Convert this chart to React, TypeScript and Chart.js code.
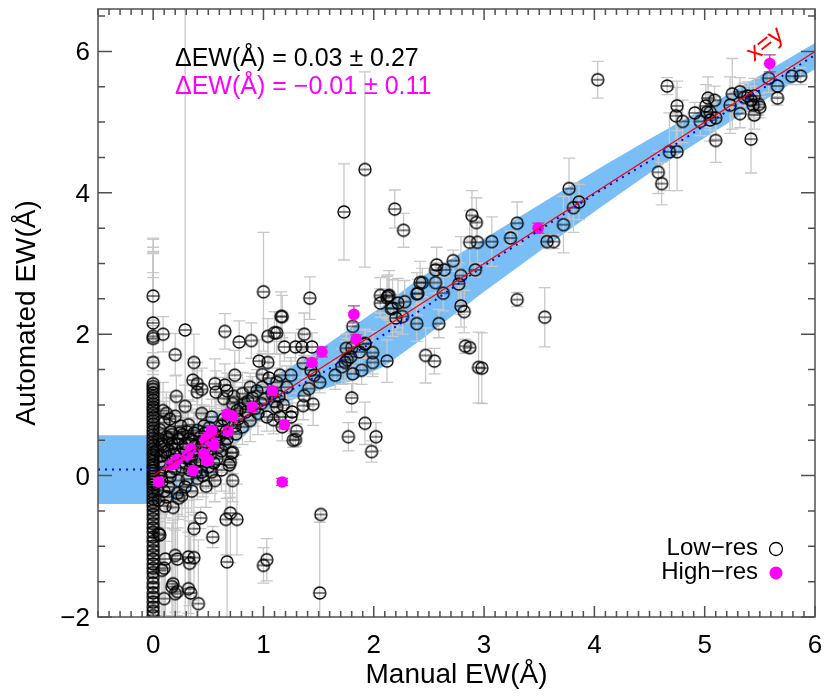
import { useEffect, useRef } from 'react';
import { Chart, registerables } from 'chart.js';

Chart.register(...registerables);

type P = [number, number, number]; // manual EW, automated EW, error

const xTickValues = [0, 1, 2, 3, 4, 5, 6];
const xTickLabels = ['0', '1', '2', '3', '4', '5', '6'];
const yTickValues = [-2, 0, 2, 4, 6];
const yTickLabels = ['−2', '0', '2', '4', '6'];

// running mean band
const bandX = [-0.5, 0, 0.05, 0.3, 0.6, 0.85, 1.06, 1.46, 1.82, 2.1, 2.42, 3.0, 3.5, 4.06, 4.5, 5.0, 5.5, 6.0];
const bandUpper = [0.57, 0.57, 0.55, 0.62, 0.92, 1.18, 1.38, 1.73, 2.12, 2.42, 2.8, 3.35, 3.83, 4.36, 4.76, 5.2, 5.66, 6.12];
const bandLower = [-0.4, -0.4, -0.4, -0.25, 0.2, 0.6, 0.95, 1.19, 1.35, 1.55, 1.91, 2.6, 3.17, 3.8, 4.28, 4.78, 5.27, 5.75];
const meanX = [-0.5, 0, 0.05, 0.3, 0.6, 1.0, 1.5, 2.0, 2.5, 3.0, 3.5, 4.0, 4.5, 5.0, 5.5, 6.0];
const meanY = [0.085, 0.085, 0.08, 0.3, 0.58, 1.0, 1.42, 1.9, 2.42, 2.97, 3.47, 3.98, 4.45, 4.95, 5.45, 5.95];
const identityX = [0, 6];
const identityY = [0, 6];

// manual EW = 0 column (automated EW, error)
const zeroColumn: [number, number][] = [
  [2.54, 0.8], [2.16, 1.0], [1.97, 0.9], [1.94, 1.2], [1.6, 0.6],
  [1.3, 2.06], [1.26, 1.97], [1.22, 1.95], [1.17, 1.63], [1.12, 1.0], [1.07, 0.8], [1.02, 0.9],
  [0.97, 0.7], [0.93, 1.0], [0.88, 0.8], [0.83, 0.6], [0.78, 0.7], [0.73, 0.9], [0.68, 0.5],
  [0.63, 0.7], [0.58, 0.6], [0.53, 0.5], [0.48, 0.8], [0.43, 0.6], [0.38, 0.5], [0.33, 0.7],
  [0.29, 0.4], [0.24, 0.6], [0.2, 0.5], [0.15, 0.4], [0.11, 0.6], [0.07, 0.5], [0.03, 0.4],
  [-0.01, 0.5], [-0.05, 0.4], [-0.09, 0.6], [-0.13, 0.5], [-0.18, 0.7], [-0.23, 0.5], [-0.28, 0.6],
  [-0.33, 0.8], [-0.38, 0.6], [-0.43, 0.7], [-0.49, 0.9], [-0.55, 0.7], [-0.61, 0.8], [-0.68, 1.0],
  [-0.74, 0.8], [-0.8, 0.9], [-0.87, 1.1], [-0.93, 0.9], [-1.0, 1.0], [-1.06, 1.2], [-1.12, 1.0],
  [-1.18, 1.1], [-1.25, 1.3], [-1.31, 1.0], [-1.37, 1.2], [-1.44, 1.1], [-1.52, 1.3], [-1.58, 1.0],
  [-1.66, 1.2], [-1.72, 1.1], [-1.79, 1.3], [-1.86, 1.2], [-1.92, 1.0], [-1.98, 1.1],
];

const lowResSpread: P[] = [
  [0.09, 2.0, 0.25], [0.29, 2.06, 4.6], [0.65, 2.04, 0.25], [0.78, 1.89, 0.3], [0.89, 1.91, 0.25],
  [1.0, 2.6, 0.84], [1.04, 1.97, 0.25], [1.1, 2.02, 0.3], [1.12, 2.02, 0.3], [1.16, 2.25, 0.35],
  [1.17, 2.25, 0.3], [1.37, 2.0, 0.3], [1.42, 2.51, 0.3], [1.73, 3.73, 0.68], [1.92, 4.33, 1.38],
  [2.19, 3.77, 0.27], [2.27, 3.47, 0.24], [1.19, 1.82, 0.2], [1.29, 1.82, 0.2], [1.35, 1.82, 0.25],
  [1.44, 1.82, 0.2], [0.2, 1.71, 0.3], [0.37, 1.6, 0.4], [0.74, 1.42, 0.35],
];

const lowResMid: P[] = [
  [1.81, 2.11, 0.2], [1.92, 1.87, 0.2], [1.75, 1.8, 0.2], [2.06, 2.55, 0.25], [2.06, 2.44, 0.2],
  [2.13, 2.54, 0.3], [2.17, 2.37, 0.4], [2.22, 2.44, 0.35], [2.28, 2.46, 0.3], [2.2, 2.23, 0.2],
  [2.26, 2.25, 0.25], [2.39, 2.57, 0.3], [2.39, 2.15, 0.25], [2.42, 2.73, 0.3], [2.12, 2.52, 0.3],
  [2.14, 2.55, 0.35], [2.16, 2.36, 0.2], [1.36, 1.59, 0.2], [1.43, 1.49, 0.2], [1.46, 1.42, 0.2],
  [1.51, 1.32, 0.15], [1.25, 1.42, 0.25], [1.15, 1.42, 0.3], [1.12, 1.32, 0.2], [1.65, 1.42, 0.2],
  [1.71, 1.54, 0.25], [1.74, 1.6, 0.3], [1.76, 1.64, 0.3], [1.79, 1.68, 0.2], [1.8, 1.81, 0.2],
  [1.81, 1.44, 0.3], [1.89, 1.49, 0.2], [1.87, 1.75, 0.2], [1.92, 1.86, 0.2], [1.99, 1.74, 0.3],
  [1.99, 1.6, 0.2], [2.12, 1.62, 0.3], [1.37, 1.13, 0.2], [1.41, 1.23, 0.25], [1.45, 1.01, 0.3],
  [1.36, 0.99, 0.2], [1.26, 0.9, 0.2], [1.3, 0.63, 0.1], [1.29, 0.51, 0.1], [1.27, 0.5, 0.1],
  [1.17, 0.69, 0.2], [1.09, 0.79, 0.2], [1.15, 0.83, 0.2], [1.25, 0.83, 0.2], [1.8, 1.1, 0.2],
  [1.77, 0.55, 0.2], [1.92, 0.74, 0.3], [2.02, 0.55, 0.2], [1.98, 0.34, 0.15], [1.52, -0.55, 0.05],
  [1.51, -1.66, 1.0],
];

const lowResUpper: P[] = [
  [2.47, 1.7, 0.39], [2.55, 1.62, 0.18], [2.95, 1.53, 0.5], [2.98, 1.52, 0.5], [2.83, 1.83, 0.1],
  [2.87, 1.81, 0.05], [2.44, 2.73, 0.2], [2.56, 2.73, 0.15], [2.79, 2.83, 0.55], [2.77, 2.71, 0.3],
  [2.4, 2.58, 0.2], [2.63, 2.58, 0.25], [2.59, 2.15, 0.2], [2.79, 2.4, 0.3], [2.82, 2.32, 0.3],
  [2.92, 2.91, 0.1], [2.72, 3.04, 0.15], [2.57, 2.98, 0.25], [2.56, 2.91, 0.1], [2.64, 2.91, 0.1],
  [2.94, 3.3, 0.3], [2.87, 3.3, 0.45], [2.89, 3.68, 0.35], [2.93, 3.58, 0.35], [3.07, 3.31, 0.35],
  [3.24, 3.36, 0.1], [3.3, 3.57, 0.3], [3.3, 2.49, 0.1], [3.55, 2.24, 0.42], [3.57, 3.31, 0.1],
  [3.63, 3.31, 0.1], [3.72, 3.55, 0.4], [3.77, 4.06, 0.43], [3.81, 3.79, 0.35], [3.86, 3.87, 0.25],
  [4.03, 5.6, 0.26], [4.58, 4.29, 0.3], [4.61, 4.13, 0.3], [4.68, 4.58, 0.55], [4.75, 4.58, 0.55],
  [4.66, 5.51, 0.12], [4.75, 5.23, 0.35], [4.74, 5.09, 0.4], [4.8, 5.01, 0.3], [4.91, 5.13, 0.15],
  [4.96, 5.01, 0.2], [5.01, 5.23, 0.3], [5.03, 5.34, 0.3], [5.02, 5.14, 0.2], [5.05, 5.14, 0.25],
  [5.09, 5.31, 0.2], [5.05, 5.03, 0.3], [5.1, 5.06, 0.3], [5.1, 4.74, 0.31], [5.23, 5.24, 0.4],
  [5.25, 5.4, 0.5], [5.32, 5.43, 0.2], [5.32, 5.12, 0.2], [5.36, 5.35, 0.2], [5.39, 5.37, 0.2],
  [5.42, 5.31, 0.2], [5.45, 5.37, 0.25], [5.44, 5.24, 0.2], [5.45, 5.1, 0.2], [5.49, 5.25, 0.15],
  [5.5, 5.21, 0.15], [5.42, 4.76, 0.48], [5.58, 5.62, 0.2], [5.66, 5.51, 0.15], [5.66, 5.34, 0.1],
  [5.79, 5.65, 0.12], [5.87, 5.65, 0.12],
];

const lowResCore: P[] = [
  [0.36, 1.35, 0.3], [0.4, 1.3, 0.3], [0.56, 1.3, 0.35], [0.96, 1.62, 0.3], [1.04, 1.6, 0.3],
  [0.99, 1.43, 0.3], [1.05, 1.38, 0.3], [0.4, 1.18, 0.3], [0.57, 1.18, 0.3], [0.67, 1.2, 0.25],
  [0.73, 1.12, 0.25], [0.09, 0.92, 0.4], [0.12, 0.88, 0.3], [0.2, 0.84, 0.3], [0.29, 0.98, 0.3],
  [0.44, 0.88, 0.3], [0.32, 0.72, 0.35], [0.4, 0.64, 0.3], [0.16, 0.62, 0.3], [0.21, 1.12, 0.3],
  [0.44, 1.22, 0.3], [0.53, 0.83, 0.25], [0.64, 1.09, 0.3], [0.72, 1.02, 0.3], [0.65, 1.28, 0.3],
  [0.81, 1.16, 0.3], [0.88, 1.25, 0.2], [0.99, 1.25, 0.2], [1.08, 1.16, 0.25], [1.03, 0.83, 0.2],
  [1.12, 0.97, 0.25], [0.81, 0.69, 0.25], [0.75, 0.59, 0.3], [0.88, 0.78, 0.3], [0.72, 0.33, 0.3],
  [0.7, 0.19, 0.5], [0.59, 0.4, 0.3], [0.14, 0.52, 0.3], [0.23, 0.52, 0.3], [0.29, 0.45, 0.25],
  [0.35, 0.5, 0.3], [0.11, 0.33, 0.3], [0.2, 0.38, 0.3], [0.41, 0.36, 0.3], [0.38, 0.19, 0.3],
  [0.07, 0.0, 0.3], [0.2, 0.1, 0.3], [0.23, -0.07, 0.3], [0.44, 0.05, 0.3], [0.56, -0.07, 0.3],
  [0.72, -0.07, 0.3], [0.14, -0.16, 0.3], [0.29, -0.16, 0.3], [0.04, -0.2, 0.3], [0.1, -0.22, 0.3],
  [0.4, -0.04, 0.3], [0.45, 0.0, 0.3], [0.69, 0.15, 0.4], [0.71, 0.32, 0.3], [0.58, 0.24, 0.3],
  [0.08, 0.45, 0.3], [0.12, 0.55, 0.3], [0.17, 0.45, 0.25], [0.25, 0.3, 0.3], [0.27, 0.58, 0.3],
  [0.31, 0.62, 0.3], [0.36, 0.3, 0.25], [0.43, 0.55, 0.3], [0.46, 0.7, 0.3], [0.48, 0.4, 0.25],
  [0.52, 0.3, 0.3], [0.55, 0.6, 0.3], [0.6, 0.55, 0.25], [0.62, 0.7, 0.3], [0.65, 0.45, 0.3],
  [0.68, 0.78, 0.3], [0.77, 0.8, 0.25], [0.79, 0.95, 0.3], [0.84, 0.9, 0.25], [0.86, 1.05, 0.3],
  [0.92, 0.95, 0.25], [0.95, 0.88, 0.3], [0.98, 1.02, 0.25], [1.01, 1.08, 0.3], [1.1, 1.05, 0.25],
  [1.14, 1.12, 0.3], [1.18, 1.0, 0.25], [1.21, 1.25, 0.3], [0.06, 0.2, 0.3], [0.09, 0.12, 0.3],
  [0.13, 0.27, 0.3], [0.16, 0.05, 0.3], [0.18, 0.22, 0.3], [0.26, 0.12, 0.3], [0.3, 0.25, 0.3],
  [0.33, 0.08, 0.3], [0.38, 0.42, 0.3], [0.5, 0.12, 0.3], [0.53, 0.48, 0.3], [0.62, 0.35, 0.3],
  [0.66, 0.62, 0.3], [0.06, 0.65, 0.3], [0.1, 0.75, 0.3], [0.15, 0.8, 0.3], [0.25, 0.7, 0.3],
  [0.05, -0.35, 0.3], [0.12, -0.3, 0.3], [0.18, -0.45, 0.3], [0.26, -0.28, 0.3], [0.48, -0.15, 0.3],
  [0.62, 0.08, 0.3], [0.22, -0.25, 0.3], [0.23, -0.32, 0.3],
  [0.03, 0.35, 0.3], [0.05, 0.52, 0.3], [0.07, 0.28, 0.3], [0.1, 0.42, 0.3], [0.14, 0.36, 0.3],
  [0.17, 0.58, 0.3], [0.19, 0.3, 0.3], [0.22, 0.45, 0.3], [0.24, 0.6, 0.3], [0.27, 0.4, 0.3],
  [0.29, 0.18, 0.3], [0.32, 0.52, 0.3], [0.34, 0.2, 0.3], [0.37, 0.6, 0.3], [0.39, 0.06, 0.3],
  [0.42, 0.22, 0.3], [0.44, 0.45, 0.3], [0.47, 0.6, 0.3], [0.49, 0.3, 0.3], [0.51, 0.68, 0.3],
  [0.55, 0.18, 0.3], [0.57, 0.5, 0.3], [0.61, 0.62, 0.3], [0.64, 0.8, 0.3], [0.67, 0.52, 0.3],
  [0.74, 0.7, 0.3], [0.76, 0.92, 0.3], [0.83, 1.02, 0.3], [0.9, 1.1, 0.3], [0.94, 1.2, 0.3],
  [0.08, -0.08, 0.3], [0.15, -0.02, 0.3], [0.31, -0.05, 0.3], [0.35, -0.22, 0.3], [0.53, 0.05, 0.3],
];

const lowResLow: P[] = [
  [0.11, -0.43, 0.5], [0.43, -0.6, 0.15], [0.37, -0.75, 0.5], [0.54, -0.87, 0.15], [0.7, -0.53, 0.7],
  [0.66, -0.62, 0.5], [0.76, -0.62, 0.5], [0.67, -1.22, 0.9], [1.0, -1.27, 0.25], [1.03, -1.19, 0.3],
  [0.11, -1.18, 0.8], [0.22, -1.18, 0.8], [0.2, -1.13, 0.8], [0.32, -1.15, 0.8], [0.37, -1.16, 0.6],
  [0.33, -1.24, 0.6], [0.08, -1.34, 0.8], [0.1, -1.31, 0.8], [0.18, -1.53, 0.9], [0.17, -1.57, 0.9],
  [0.22, -1.64, 0.9], [0.2, -1.67, 0.9], [0.32, -1.6, 0.8], [0.34, -1.66, 0.8], [0.1, -1.74, 1.0],
  [0.41, -1.81, 0.9], [0.06, -0.84, 0.5], [0.05, -0.82, 0.5],
];

const highRes: P[] = [
  [0.05, -0.09, 0.05], [0.16, 0.15, 0.04], [0.19, 0.17, 0.04], [0.22, 0.23, 0.05], [0.31, 0.29, 0.05],
  [0.34, 0.38, 0.05], [0.36, 0.07, 0.04], [0.46, 0.31, 0.05], [0.49, 0.21, 0.05], [0.5, 0.22, 0.05],
  [0.47, 0.5, 0.08], [0.5, 0.55, 0.06], [0.52, 0.5, 0.05], [0.53, 0.64, 0.05], [0.54, 0.47, 0.05],
  [0.55, 0.43, 0.05], [0.67, 0.87, 0.05], [0.72, 0.84, 0.05], [0.68, 0.63, 0.05], [0.9, 0.97, 0.06],
  [1.08, 1.2, 0.06], [1.19, 0.72, 0.06], [1.17, -0.09, 0.05], [1.44, 1.6, 0.05], [1.53, 1.75, 0.07],
  [1.82, 2.28, 0.12], [1.84, 1.93, 0.06], [3.49, 3.5, 0.07], [5.59, 5.83, 0.12],
];

const FONT = '"Liberation Sans", Arial, Helvetica, sans-serif';

const errorBarPlugin = {
  id: 'errorBars',
  beforeDatasetDraw(chart: any, args: any) {
    const ds = chart.data.datasets[args.index];
    if (!ds.errorBars) return;
    const ctx = chart.ctx;
    const a = chart.chartArea;
    const ys = chart.scales.y;
    ctx.save();
    ctx.beginPath();
    ctx.rect(a.left, a.top, a.right - a.left, a.bottom - a.top);
    ctx.clip();
    ctx.strokeStyle = ds.errorColor;
    ctx.lineWidth = 1.3;
    args.meta.data.forEach((el: any, i: number) => {
      const e = ds.errorBars[i];
      const v = ds.data[i].y;
      const x = el.x;
      const y1 = ys.getPixelForValue(v + e);
      const y2 = ys.getPixelForValue(v - e);
      ctx.beginPath();
      ctx.moveTo(x, y1);
      ctx.lineTo(x, y2);
      ctx.moveTo(x - 6, y1);
      ctx.lineTo(x + 6, y1);
      ctx.moveTo(x - 6, y2);
      ctx.lineTo(x + 6, y2);
      ctx.stroke();
    });
    ctx.restore();
  },
};

const framePlugin = {
  id: 'frame',
  afterDraw(chart: any) {
    const ctx = chart.ctx;
    const a = chart.chartArea;
    const xs = chart.scales.x;
    const ys = chart.scales.y;
    ctx.save();
    ctx.strokeStyle = '#505050';
    ctx.lineWidth = 1.5;
    ctx.strokeRect(a.left, a.top, a.right - a.left, a.bottom - a.top);
    ctx.beginPath();
    for (let i = -5; i <= 60; i++) {
      const px = xs.getPixelForValue(i / 10);
      const len = i % 10 === 0 ? 11 : 6;
      ctx.moveTo(px, a.bottom);
      ctx.lineTo(px, a.bottom - len);
      ctx.moveTo(px, a.top);
      ctx.lineTo(px, a.top + len);
    }
    for (let i = -4; i <= 13; i++) {
      const py = ys.getPixelForValue(i / 2);
      const len = i % 4 === 0 ? 14 : 7;
      ctx.moveTo(a.left, py);
      ctx.lineTo(a.left + len, py);
      ctx.moveTo(a.right, py);
      ctx.lineTo(a.right - len, py);
    }
    ctx.stroke();

    ctx.fillStyle = '#000';
    ctx.font = `26px ${FONT}`;
    ctx.textBaseline = 'alphabetic';
    ctx.textAlign = 'center';
    xTickValues.forEach((v, i) => {
      ctx.fillText(xTickLabels[i], xs.getPixelForValue(v), a.bottom + 36);
    });
    ctx.textAlign = 'right';
    yTickValues.forEach((v, i) => {
      ctx.fillText(yTickLabels[i], 90, ys.getPixelForValue(v) + 9);
    });

    ctx.font = `28px ${FONT}`;
    ctx.textAlign = 'center';
    ctx.fillText('Manual EW(Å)', (a.left + a.right) / 2, 683);
    ctx.save();
    ctx.translate(35, (a.top + a.bottom) / 2);
    ctx.rotate(-Math.PI / 2);
    ctx.fillText('Automated EW(Å)', 0, 0);
    ctx.restore();

    ctx.font = `25px ${FONT}`;
    ctx.textAlign = 'left';
    ctx.fillStyle = '#000';
    ctx.fillText('ΔEW(Å) = 0.03 ± 0.27', 175, 66);
    ctx.fillStyle = '#ff00ff';
    ctx.fillText('ΔEW(Å) = −0.01 ± 0.11', 175, 94);

    ctx.save();
    ctx.fillStyle = '#ff0000';
    ctx.font = `25px ${FONT}`;
    ctx.translate(754, 62);
    ctx.rotate(-38 * Math.PI / 180);
    ctx.fillText('x=y', 0, 0);
    ctx.restore();

    ctx.font = `24px ${FONT}`;
    ctx.textAlign = 'right';
    ctx.fillStyle = '#000';
    ctx.fillText('Low−res', 758, 555);
    ctx.fillText('High−res', 758, 579);
    ctx.beginPath();
    ctx.arc(776, 549, 6.5, 0, Math.PI * 2);
    ctx.strokeStyle = '#000';
    ctx.lineWidth = 1.3;
    ctx.stroke();
    ctx.beginPath();
    ctx.arc(776, 573, 6.5, 0, Math.PI * 2);
    ctx.fillStyle = '#ff00ff';
    ctx.fill();
    ctx.restore();
  },
};

export default function App() {
  const ref = useRef<HTMLCanvasElement>(null);
  useEffect(() => {
    const canvas = ref.current;
    if (!canvas) return;
    const marker = document.createElement('canvas');
    marker.width = 16;
    marker.height = 16;
    const m = marker.getContext('2d')!;
    m.strokeStyle = '#000';
    m.lineWidth = 1.35;
    m.beginPath();
    m.arc(8, 8, 6, 0, Math.PI * 2);
    m.stroke();
    m.lineWidth = 1;
    m.beginPath();
    m.moveTo(2.5, 8);
    m.lineTo(13.5, 8);
    m.stroke();

    const lowAll: P[] = [
      ...zeroColumn.map(([y, e]) => [0, y, e] as P),
      ...lowResCore,
      ...lowResLow,
      ...lowResSpread,
      ...lowResMid,
      ...lowResUpper,
    ];

    const chart = new Chart(canvas, {
      type: 'line',
      data: {
        datasets: [
          {
            label: 'band upper',
            data: bandX.map((x, i) => ({ x, y: bandUpper[i] })),
            borderWidth: 0,
            pointRadius: 0,
            fill: '+1',
            backgroundColor: 'rgb(122,190,247)',
            borderColor: 'rgba(0,0,0,0)',
            order: 10,
          },
          {
            label: 'band lower',
            data: bandX.map((x, i) => ({ x, y: bandLower[i] })),
            borderWidth: 0,
            pointRadius: 0,
            fill: false,
            borderColor: 'rgba(0,0,0,0)',
            order: 9,
          },
          {
            label: 'Low-res',
            data: lowAll.map((p) => ({ x: p[0], y: p[1] })),
            errorBars: lowAll.map((p) => p[2]),
            errorColor: 'rgb(200,200,200)',
            showLine: false,
            pointStyle: marker,
            pointRadius: 6,
            clip: 0,
            order: 5,
          } as any,
          {
            label: 'High-res',
            data: highRes.map((p) => ({ x: p[0], y: p[1] })),
            errorBars: highRes.map((p) => p[2]),
            errorColor: 'rgb(170,70,150)',
            showLine: false,
            pointStyle: 'circle',
            pointRadius: 5.8,
            pointBorderWidth: 0,
            pointBackgroundColor: '#ff00ff',
            clip: 0,
            order: 4,
          } as any,
          {
            label: 'x=y',
            data: identityX.map((x, i) => ({ x, y: identityY[i] })),
            borderColor: '#ff0000',
            borderWidth: 1.2,
            pointRadius: 0,
            fill: false,
            order: 2,
          },
          {
            label: 'mean',
            data: meanX.map((x, i) => ({ x, y: meanY[i] })),
            borderColor: '#0000ff',
            borderWidth: 2,
            borderDash: [2, 5],
            pointRadius: 0,
            fill: false,
            order: 1,
          },
        ],
      },
      options: {
        responsive: false,
        animation: false,
        events: [],
        layout: { padding: { left: 98, right: 15, top: 9, bottom: 81 } },
        elements: { line: { tension: 0 } },
        scales: {
          x: { type: 'linear', min: -0.5, max: 6, display: false },
          y: { type: 'linear', min: -2, max: 6.6, display: false },
        },
        plugins: { legend: { display: false }, tooltip: { enabled: false } },
      },
      plugins: [errorBarPlugin, framePlugin],
    });
    return () => chart.destroy();
  }, []);

  return (
    <div style={{ position: 'fixed', left: 0, top: 0, width: 830, height: 698, background: '#fff' }}>
      <canvas ref={ref} width={830} height={698} style={{ display: 'block' }} />
    </div>
  );
}
